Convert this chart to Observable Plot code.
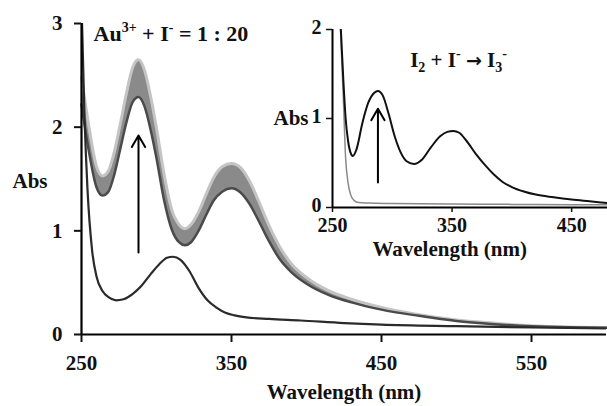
<!DOCTYPE html>
<html><head><meta charset="utf-8">
<script src="https://cdn.jsdelivr.net/npm/d3@7"></script>
<script src="https://cdn.jsdelivr.net/npm/@observablehq/plot@0.6"></script>
<style>
body{margin:0;background:#fff;}
#wrap{position:relative;width:607px;height:406px;overflow:hidden;background:#fff;}
#wrap svg{position:absolute;top:0;}
</style></head><body><div id="wrap"></div>
<script>
// Main panel: Au3+ + I- (1:20) family of spectra (envelope: lowest / highest curve)
const bandWl  = [250, 255, 260, 264, 268, 272, 276, 280, 284, 288, 292, 296, 300, 305, 310, 315, 319, 323, 328, 333, 338, 344, 350, 356, 362, 368, 375, 382, 390, 400, 415, 430, 450, 475, 500, 525, 550, 575, 600];
const bandLow = [2.22, 1.76, 1.42, 1.34, 1.38, 1.55, 1.80, 2.05, 2.24, 2.29, 2.20, 1.98, 1.70, 1.30, 1.02, 0.89, 0.86, 0.89, 1.00, 1.15, 1.29, 1.38, 1.41, 1.37, 1.26, 1.10, 0.90, 0.73, 0.60, 0.49, 0.38, 0.31, 0.24, 0.18, 0.13, 0.10, 0.08, 0.07, 0.065];
const bandHigh= [2.48, 2.00, 1.62, 1.53, 1.58, 1.77, 2.04, 2.33, 2.57, 2.65, 2.55, 2.30, 1.99, 1.55, 1.21, 1.06, 1.02, 1.06, 1.18, 1.35, 1.51, 1.62, 1.65, 1.61, 1.48, 1.29, 1.05, 0.85, 0.68, 0.55, 0.42, 0.34, 0.26, 0.19, 0.14, 0.11, 0.085, 0.072, 0.068];
// Main panel: reference spectrum (dark curve)
const refWl  = [250, 252, 254, 257, 260, 264, 268, 273, 278, 284, 290, 296, 302, 307, 311, 316, 322, 328, 334, 340, 346, 352, 360, 375, 396, 425, 450, 500, 550, 600];
const refAbs = [3.2, 2.1, 1.4, 0.82, 0.56, 0.42, 0.36, 0.33, 0.34, 0.39, 0.47, 0.58, 0.68, 0.74, 0.75, 0.72, 0.61, 0.45, 0.33, 0.26, 0.21, 0.185, 0.165, 0.15, 0.135, 0.11, 0.095, 0.08, 0.068, 0.058];
// Inset: I3- (black) and I- (grey)
const i3Wl  = [254, 257, 259, 261, 263, 265, 267, 270, 275, 280, 285, 288, 292, 297, 302, 307, 312, 318, 325, 332, 340, 346, 351, 356, 362, 370, 378, 385, 392, 400, 410, 420, 435, 450, 465, 480];
const i3Abs = [2.8, 2.0, 1.45, 1.0, 0.75, 0.62, 0.58, 0.65, 0.95, 1.18, 1.29, 1.31, 1.26, 1.05, 0.80, 0.62, 0.52, 0.49, 0.54, 0.67, 0.80, 0.85, 0.86, 0.84, 0.75, 0.60, 0.47, 0.37, 0.29, 0.23, 0.18, 0.145, 0.115, 0.09, 0.07, 0.05];
const iWl   = [254, 257, 259, 261, 263, 265, 268, 272, 280, 300, 350, 400, 450, 480];
const iAbs  = [2.8, 1.9, 1.25, 0.55, 0.28, 0.15, 0.08, 0.055, 0.05, 0.045, 0.04, 0.035, 0.03, 0.03];
// Arrows (wavelength, from, to)
const arrowMain  = [{w: 288, from: 0.79, to: 1.92}];
const arrowInset = [{w: 288, from: 0.28, to: 1.11}];
// Ticks
const xTicksMain = [250, 350, 450, 550];
const yTicksMain = [0, 1, 2, 3];
const xTicksInset = [250, 350, 450];
const yTicksInset = [0, 1, 2];

const band = bandWl.map((w, i) => ({w, lo: bandLow[i], hi: bandHigh[i]}));
const ref = refWl.map((w, i) => ({w, a: refAbs[i]}));
const i3 = i3Wl.map((w, i) => ({w, a: i3Abs[i]}));
const iOnly = iWl.map((w, i) => ({w, a: iAbs[i]}));

const font = "'Liberation Serif','Times New Roman',serif";
const baseStyle = {fontFamily: font, fontWeight: "bold", fontSize: "21px", color: "#111", background: "transparent", overflow: "visible"};
const fmt = d => String(d);

const TITLE_MAIN = "Au3+ + I- = 1 : 20";
const TITLE_INSET = "I2 + I- -> I3-";

const main = Plot.plot({
  width: 607, height: 406, marginLeft: 81, marginRight: 1, marginTop: 23, marginBottom: 72,
  style: baseStyle,
  x: {domain: [250, 600]}, y: {domain: [0, 3]},
  marks: [
    Plot.areaY(band, {x: "w", y1: "lo", y2: "hi", fill: "#8a8a8a", curve: "monotone-x"}),
    Plot.lineY(band, {x: "w", y: "hi", stroke: "#c4c4c4", strokeWidth: 3, curve: "monotone-x"}),
    Plot.lineY(band, {x: "w", y: "lo", stroke: "#4a4a4a", strokeWidth: 2.5, curve: "monotone-x"}),
    Plot.lineY(ref, {x: "w", y: "a", stroke: "#2a2a2a", strokeWidth: 2.2, curve: "monotone-x", clip: true}),
    Plot.arrow(arrowMain, {x1: "w", x2: "w", y1: "from", y2: "to", stroke: "#000", strokeWidth: 2, headLength: 10}),
    Plot.ruleX([250], {stroke: "#000", strokeWidth: 2.2}),
    Plot.ruleY([0], {stroke: "#000", strokeWidth: 2.2}),
    Plot.axisX({ticks: xTicksMain, tickSize: 8, tickPadding: 13, fontSize: 21, strokeWidth: 2, label: null, tickFormat: fmt}),
    Plot.axisY({ticks: yTicksMain, tickSize: 7, tickPadding: 12, fontSize: 21, strokeWidth: 2, label: null, tickFormat: fmt}),
    Plot.text(["Abs"], {y: [1.41], frameAnchor: "left", dx: -69, textAnchor: "start", lineAnchor: "bottom", fontSize: 21}),
    Plot.text(["Wavelength (nm)"], {frameAnchor: "bottom", dy: 64, lineAnchor: "bottom", fontSize: 21}),
    Plot.text([TITLE_MAIN], {x: [258], y: [2.835], textAnchor: "start", lineAnchor: "bottom", fontSize: 22})
  ]
});

const inset = Plot.plot({
  width: 357, height: 265, marginLeft: 82, marginRight: 0, marginTop: 29, marginBottom: 58,
  style: baseStyle,
  x: {domain: [250, 480]}, y: {domain: [0, 2]},
  marks: [
    Plot.lineY(iOnly, {x: "w", y: "a", stroke: "#8a8a8a", strokeWidth: 1.5, curve: "monotone-x", clip: true}),
    Plot.lineY(i3, {x: "w", y: "a", stroke: "#111", strokeWidth: 2, curve: "monotone-x", clip: true}),
    Plot.arrow(arrowInset, {x1: "w", x2: "w", y1: "from", y2: "to", stroke: "#000", strokeWidth: 2, headLength: 10}),
    Plot.ruleX([250], {stroke: "#000", strokeWidth: 2}),
    Plot.ruleY([0], {stroke: "#000", strokeWidth: 2}),
    Plot.axisX({ticks: xTicksInset, tickSize: 5, tickPadding: 5, fontSize: 20, strokeWidth: 1.5, label: null, tickFormat: fmt}),
    Plot.axisY({ticks: yTicksInset, tickSize: 6, strokeWidth: 1.5, label: null, tickFormat: () => ""}),
    Plot.text(yTicksInset, {y: d => d, text: fmt, frameAnchor: "left", dx: -11, dy: -2, textAnchor: "end", lineAnchor: "middle", fontSize: 20}),
    Plot.text(["Abs"], {y: [1], frameAnchor: "left", dx: -24, textAnchor: "end", lineAnchor: "middle", fontSize: 21}),
    Plot.text(["Wavelength (nm)"], {x: [348], frameAnchor: "bottom", dy: 48, lineAnchor: "bottom", fontSize: 21}),
    Plot.text([TITLE_INSET], {x: [355.4], y: [1.575], textAnchor: "middle", lineAnchor: "bottom", fontSize: 21})
  ]
});
inset.style.left = "250px";
main.style.left = "0px";

const wrap = document.getElementById("wrap");
wrap.appendChild(main);
wrap.appendChild(inset);

function rich(svg, key, parts) {
  d3.select(svg).selectAll("text").filter(function () { return this.textContent === key; }).each(function () {
    const t = d3.select(this);
    t.text(null);
    let shift = 0;
    for (const [s, kind, fam] of parts) {
      const target = kind === "sup" ? -9 : kind === "sub" ? 5 : 0;
      const ts = t.append("tspan").text(s).attr("dy", target - shift);
      if (kind) ts.attr("font-size", 14);
      if (fam) ts.attr("font-family", fam).attr("font-size", 19);
      shift = target;
    }
  });
}
rich(main, TITLE_MAIN, [["Au", ""], ["3+", "sup"], [" + I", ""], ["-", "sup"], [" = 1 : 20", ""]]);
rich(inset, TITLE_INSET, [["I", ""], ["2", "sub"], [" + I", ""], ["-", "sup"], [" ", ""], ["\u2192", "", "'DejaVu Sans'"], [" I", ""], ["3", "sub"], ["-", "sup"]]);
</script></body></html>
